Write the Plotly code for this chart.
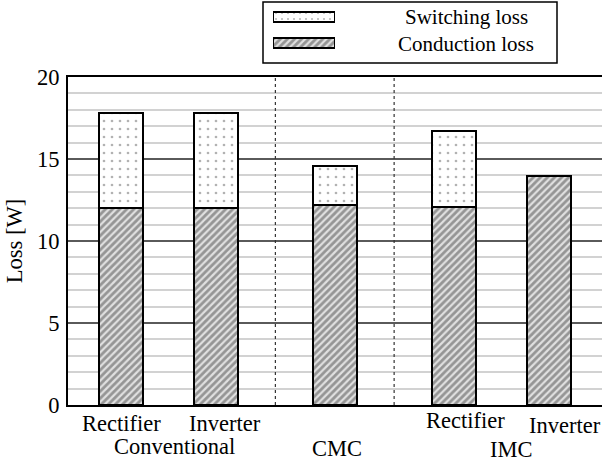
import plotly.graph_objects as go

# ---------------- data ----------------
groups = ["Conventional", "Conventional", "CMC", "IMC", "IMC"]
converters = ["Rectifier", "Inverter", "", "Rectifier", "Inverter"]
conduction_loss = [12.0, 12.0, 12.2, 12.05, 13.95]
switching_loss = [5.8, 5.8, 2.4, 4.65, 0.0]
y_tick_values = [0, 5, 10, 15, 20]
legend_names = ["Switching loss", "Conduction loss"]

# ---------------- layout constants ----------------
W, H = 602, 464
ML, MR, MT, MB = 68, 0, 0, 59
PH = H - MT - MB            # plot area height in px (405)
PW = W - ML - MR            # plot area width in px (534)
AXIS_TOP = 77               # px from top of figure where y=20 sits
UNIT_PX = 47.5              # px per x unit
FIRST_BAR_PX = 121          # px center of first bar
FONT = "Liberation Serif"
FS = 22.5
FS_LEG = 21

# positions computed from group structure
positions = []
cur = 0.0
prev = None
for g in groups:
    if prev is None:
        cur = 0.0
    elif g == prev:
        cur += 2.0
    else:
        cur += 2.5
    positions.append(cur)
    prev = g

seps = []
for i in range(1, len(groups)):
    if groups[i] != groups[i - 1]:
        seps.append((positions[i] + positions[i - 1]) / 2)

x0 = -(FIRST_BAR_PX - ML) / UNIT_PX
x1 = x0 + PW / UNIT_PX
bar_w = 44 / UNIT_PX

cond_pattern = dict(shape="/", fgcolor="#4a4a4a", bgcolor="#e0e0e0", size=5, solidity=0.55)
sw_pattern = dict(shape=".", fgcolor="#666666", bgcolor="white", size=8, solidity=0.09)

fig = go.Figure()
fig.add_trace(go.Bar(
    x=positions, y=conduction_loss, width=bar_w,
    marker=dict(color="white", pattern=cond_pattern, line=dict(color="black", width=2.4)),
    showlegend=False, xaxis="x", yaxis="y"))
fig.add_trace(go.Bar(
    x=positions, y=[v if v > 0 else None for v in switching_loss], width=bar_w,
    marker=dict(color="white", pattern=sw_pattern, line=dict(color="black", width=2.4)),
    showlegend=False, xaxis="x", yaxis="y"))

# legend swatches on a hidden overlay axis
fig.add_trace(go.Bar(
    y=legend_names, x=[1, 1], orientation="h", width=[0.42, 0.42],
    marker=dict(color="white", pattern=dict(
        shape=[sw_pattern["shape"], cond_pattern["shape"]],
        fgcolor=[sw_pattern["fgcolor"], cond_pattern["fgcolor"]],
        bgcolor=[sw_pattern["bgcolor"], cond_pattern["bgcolor"]],
        size=[6, 5], solidity=[0.09, 0.55]),
        line=dict(color="black", width=2.4)),
    showlegend=False, xaxis="x2", yaxis="y2", hoverinfo="skip"))

main_top = (PH - (AXIS_TOP - MT)) / PH


def px_x(px):
    return (px - ML) / PW


def px_y(py):
    return (PH - (py - MT)) / PH


# legend box
shapes = [dict(type="rect", xref="paper", yref="paper",
               x0=px_x(263), x1=px_x(557), y0=px_y(63), y1=px_y(2),
               line=dict(color="black", width=1.5), fillcolor="rgba(0,0,0,0)")]
for s in seps:
    shapes.append(dict(type="line", xref="x", yref="y", x0=s, x1=s, y0=0, y1=20,
                       line=dict(color="#333", width=1.2, dash="dot"), layer="above"))

annotations = []
# legend texts
for name, py in zip(legend_names, [17, 44]):
    annotations.append(dict(text=name, xref="paper", yref="paper", x=px_x(466), y=px_y(py),
                            showarrow=False, xanchor="center", yanchor="middle",
                            font=dict(family=FONT, size=FS_LEG, color="black")))
# x labels row 1
row1_shift = [0, 9, 0, 12, 16]
row1_y = [423, 423, 423, 421, 425]
for p, c, sh, py in zip(positions, converters, row1_shift, row1_y):
    if c:
        annotations.append(dict(text=c, xref="x", yref="paper", x=p, y=px_y(py), xshift=sh,
                                showarrow=False, xanchor="center", yanchor="middle",
                                font=dict(family=FONT, size=FS, color="black")))
# group labels
group_order = []
for g in groups:
    if g not in group_order:
        group_order.append(g)
group_shift = {"Conventional": 6, "CMC": 2, "IMC": 10}
group_y = {"Conventional": 447, "CMC": 448, "IMC": 449}
for g in group_order:
    ps = [p for p, gg in zip(positions, groups) if gg == g]
    annotations.append(dict(text=g, xref="x", yref="paper", x=sum(ps) / len(ps), y=px_y(group_y[g]),
                            xshift=group_shift[g], showarrow=False, xanchor="center", yanchor="middle",
                            font=dict(family=FONT, size=FS, color="black")))

# legend axis domains
sw_x0, sw_x1 = 273, 335
lg_top, lg_bot = 4, 56

fig.update_layout(
    width=W, height=H,
    margin=dict(l=ML, r=MR, t=MT, b=MB, pad=0, autoexpand=False),
    paper_bgcolor="white", plot_bgcolor="white",
    barmode="stack", bargap=0,
    font=dict(family=FONT, size=FS, color="black"),
    xaxis=dict(range=[x0, x1], domain=[0, 1], showticklabels=False, ticks="",
               showgrid=False, zeroline=False, showline=True, linecolor="black",
               linewidth=2, mirror=True, anchor="y", automargin=False),
    yaxis=dict(range=[0, 20], domain=[0, main_top], tickvals=y_tick_values,
               ticks="", ticklabelstandoff=2, automargin=False,
               showgrid=True, gridcolor="#5a5a5a", gridwidth=1.5,
               minor=dict(dtick=1, showgrid=True, gridcolor="#d2d2d2", gridwidth=1.5),
               zeroline=False, showline=True, linecolor="black", linewidth=2,
               title=dict(text="Loss [W]", standoff=8,
                          font=dict(family=FONT, size=FS)),
               tickfont=dict(family=FONT, size=FS), anchor="x"),
    xaxis2=dict(domain=[px_x(sw_x0), px_x(sw_x1)], range=[0, 1], visible=False, anchor="y2"),
    yaxis2=dict(domain=[px_y(lg_bot), px_y(lg_top)], range=[1.5, -0.5], visible=False,
                anchor="x2", type="category", categoryorder="array", categoryarray=legend_names),
    shapes=shapes,
    annotations=annotations,
    showlegend=False,
)

fig.write_html("out.html")
